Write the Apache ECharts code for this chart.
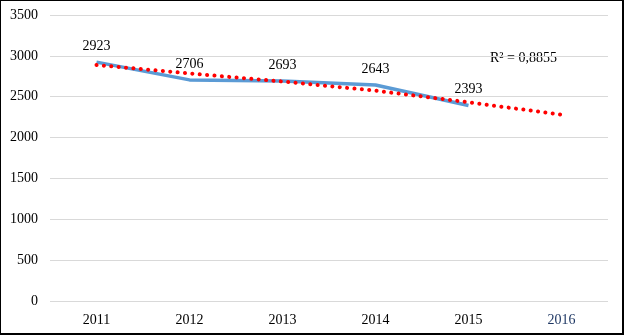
<!DOCTYPE html>
<html>
<head>
<meta charset="utf-8">
<script src="https://cdn.jsdelivr.net/npm/echarts@6/dist/echarts.min.js"></script>
<style>
  html, body { margin: 0; padding: 0; background: #fff; }
  #frame {
    position: absolute; left: 0; top: 0; width: 624px; height: 335px;
    box-sizing: border-box; border: 1px solid #000;
    border-right-width: 2px; border-bottom-width: 2px;
  }
  #chart { position: absolute; left: 0; top: 0; width: 624px; height: 335px; }
</style>
</head>
<body>
<div id="chart"></div>
<div id="frame"></div>
<script>
// Yearly totals with a linear trend extended one year ahead
const years = ['2011', '2012', '2013', '2014', '2015', '2016'];
const totals = [2923, 2706, 2693, 2643, 2393, null];
const trend = [2888, 2785, 2686, 2574, 2432, 2280];
const yTicks = { min: 0, max: 3500, step: 500 };
const rSquaredText = 'R² = 0,8855';

const serif = '"Liberation Serif", "Times New Roman", serif';
const chart = echarts.init(document.getElementById('chart'), null, { renderer: 'canvas' });

chart.setOption({
  animation: false,
  backgroundColor: '#fff',
  grid: { left: 50, right: 16, top: 15, bottom: 34 },
  xAxis: {
    type: 'category',
    data: years,
    boundaryGap: true,
    axisLine: { show: false },
    axisTick: { show: false },
    axisLabel: {
      margin: 12,
      fontFamily: serif,
      fontSize: 14,
      color: function (v) { return v === '2016' ? '#1F3864' : '#000'; }
    }
  },
  yAxis: {
    type: 'value',
    min: yTicks.min,
    max: yTicks.max,
    interval: yTicks.step,
    axisLine: { show: false },
    axisTick: { show: false },
    axisLabel: {
      margin: 12, fontFamily: serif, fontSize: 14, color: '#000',
      formatter: function (v) { return String(v); }
    },
    splitLine: { lineStyle: { color: '#D9D9D9', width: 1 } }
  },
  graphic: [{
    type: 'text',
    left: 490,
    top: 51,
    style: { text: rSquaredText, font: '14px ' + serif, fill: '#000' }
  }],
  series: [
    {
      type: 'line',
      data: totals,
      symbol: 'circle',
      symbolSize: 0,
      showSymbol: true,
      itemStyle: { color: '#5B9BD5' },
      lineStyle: { color: '#5B9BD5', width: 3.5 },
      label: {
        show: true,
        position: 'top',
        distance: 9,
        fontFamily: serif,
        fontSize: 14,
        color: '#000'
      },
      z: 2
    },
    {
      type: 'line',
      data: trend,
      symbol: 'none',
      lineStyle: { color: '#FF0000', width: 4, type: [0.1, 7.3], cap: 'round' },
      z: 3
    }
  ]
});
</script>
</body>
</html>
